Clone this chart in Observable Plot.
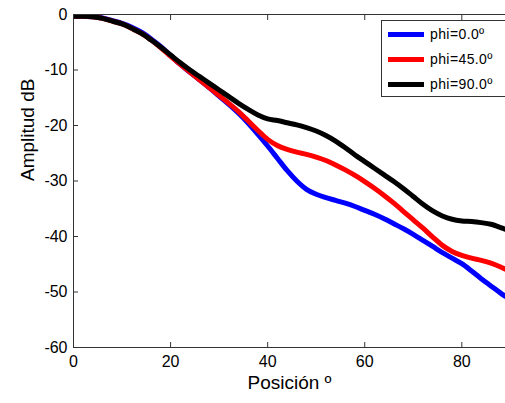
<!DOCTYPE html>
<html>
<head>
<meta charset="utf-8">
<script src="https://cdn.jsdelivr.net/npm/d3@7"></script>
<script src="https://cdn.jsdelivr.net/npm/@observablehq/plot@0.6"></script>
<style>
  html, body { margin: 0; padding: 0; background: #fff; }
  #wrap { position: relative; width: 505px; height: 403px; font-family: "Liberation Sans", Arial, sans-serif; }
  #legend { position: absolute; left: 381px; top: 20px; width: 123px; height: 75px; border: 1px solid #333; background: #fff; box-sizing: content-box; }
  .row { position: absolute; left: 0; height: 20px; display: flex; align-items: center; font-size: 14px; letter-spacing: 0.4px; color: #000; }
  .sw { display: inline-block; width: 36px; height: 5px; margin-left: 6px; margin-right: 6px; }
</style>
</head>
<body>
<div id="wrap"><div id="legend"></div></div>
<script>
const xs = [0,2,4,6,8,10,12,14,16,18,20,22,24,26,28,30,32,34,36,38,40,42,44,46,48,50,52,54,56,58,60,62,64,66,68,70,72,74,76,78,80,82,84,86,88,89];
const phi0 = [-0.3,-0.3,-0.4,-0.6,-1.1,-1.6,-2.3,-3.2,-4.4,-5.8,-7.4,-9.0,-10.4,-11.8,-13.2,-14.7,-16.2,-17.8,-19.6,-21.6,-23.7,-25.9,-28.1,-30.0,-31.5,-32.4,-33.0,-33.5,-34.0,-34.6,-35.3,-36.0,-36.8,-37.7,-38.6,-39.6,-40.7,-41.8,-42.9,-43.9,-44.9,-46.2,-47.6,-48.9,-50.2,-50.8];
const phi45 = [-0.3,-0.3,-0.4,-0.7,-1.2,-1.7,-2.5,-3.4,-4.6,-6.0,-7.5,-9.0,-10.4,-11.8,-13.2,-14.6,-16.0,-17.5,-19.2,-20.9,-22.5,-23.6,-24.3,-24.8,-25.2,-25.7,-26.3,-27.1,-28.0,-29.0,-30.1,-31.3,-32.6,-34.0,-35.5,-37.0,-38.5,-40.1,-41.6,-42.7,-43.4,-43.9,-44.3,-44.8,-45.5,-45.9];
const phi90 = [-0.3,-0.3,-0.4,-0.7,-1.2,-1.7,-2.5,-3.4,-4.6,-5.9,-7.3,-8.7,-10.0,-11.2,-12.4,-13.6,-14.8,-16.0,-17.1,-18.1,-18.8,-19.1,-19.5,-19.9,-20.4,-21.0,-21.8,-22.8,-24.0,-25.3,-26.5,-27.7,-28.9,-30.1,-31.4,-32.8,-34.2,-35.4,-36.3,-36.9,-37.2,-37.3,-37.5,-37.8,-38.4,-38.7];
const seriesNames = ["phi=0.0º", "phi=45.0º", "phi=90.0º"];
const seriesColors = ["#0000ff", "#ff0000", "#000000"];
const seriesValues = [phi0, phi45, phi90];
const xTicks = [0, 20, 40, 60, 80];
const yTicks = [0, -10, -20, -30, -40, -50, -60];

const data = seriesNames.flatMap((name, i) => xs.map((x, j) => ({x, y: seriesValues[i][j], name})));
const axisColor = "#333";

const chart = Plot.plot({
  width: 505,
  height: 403,
  marginLeft: 73,
  marginRight: 0,
  marginTop: 14,
  marginBottom: 56,
  style: {fontFamily: "'Liberation Sans', Arial, sans-serif", fontSize: "16px", color: "#000", background: "transparent"},
  x: {domain: [0, 89]},
  y: {domain: [-60, 0]},
  color: {domain: seriesNames, range: seriesColors},
  marks: [
    Plot.line(data, {x: "x", y: "y", z: "name", stroke: "name", strokeWidth: 5, clip: true, curve: "monotone-x"}),
    Plot.ruleX([0], {stroke: axisColor, strokeWidth: 1}),
    Plot.ruleY([0], {stroke: axisColor, strokeWidth: 1}),
    Plot.ruleY([-60], {stroke: axisColor, strokeWidth: 1}),
    Plot.axisX({ticks: xTicks, tickSize: -5, tickPadding: 13, label: null, stroke: axisColor, fill: "#000"}),
    Plot.axisX({anchor: "top", ticks: xTicks.slice(1), tickSize: -5, tickFormat: () => "", label: null, stroke: axisColor}),
    Plot.axisY({ticks: yTicks, tickSize: -5, tickPadding: 11, label: null, stroke: axisColor, fill: "#000", tickFormat: d => String(d).replace("\u2212", "-")}),
    Plot.text(["Posición º"], {frameAnchor: "bottom", dy: 41, fontSize: 19, fill: "#000"}),
    Plot.text(["Amplitud dB"], {frameAnchor: "left", dx: -46, rotate: -90, fontSize: 19, fill: "#000"})
  ]
});
const wrap = document.getElementById("wrap");
wrap.insertBefore(chart, wrap.firstChild);

const legend = document.getElementById("legend");
seriesNames.forEach((name, i) => {
  const row = document.createElement("div");
  row.className = "row";
  row.style.top = (3 + i * 25) + "px";
  const sw = document.createElement("span");
  sw.className = "sw";
  sw.style.background = seriesColors[i];
  const t = document.createElement("span");
  t.textContent = name;
  row.appendChild(sw);
  row.appendChild(t);
  legend.appendChild(row);
});
</script>
</body>
</html>
